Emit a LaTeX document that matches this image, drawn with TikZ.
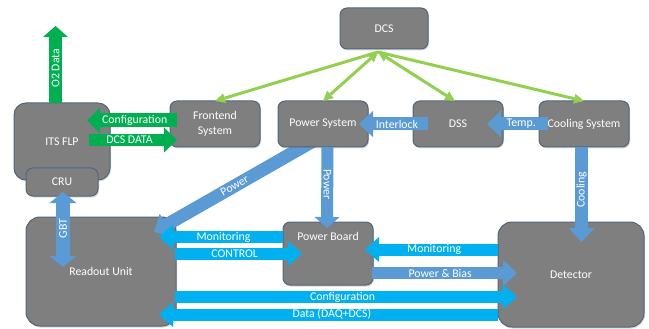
\documentclass[tikz,border=0pt]{standalone}
\usepackage{fontspec}
\setmainfont{Carlito}
\usetikzlibrary{arrows.meta,calc,shadows}
\definecolor{boxfill}{HTML}{7F7F7F}
\definecolor{boxedge}{HTML}{52667A}
\definecolor{dgreen}{HTML}{00B050}
\definecolor{lgreen}{HTML}{92D050}
\definecolor{sblue}{HTML}{5B9BD5}
\definecolor{scyan}{HTML}{00B0F0}
\pgfdeclarelayer{back}
\pgfdeclarelayer{mid}
\pgfsetlayers{back,mid,main}
\newcommand{\lblfont}{\fontsize{11.8}{15.5}\selectfont}
\tikzset{
  box/.style={draw=boxedge,line width=1pt,fill=boxfill,rounded corners=7pt,
    text=white,font=\lblfont,align=center,inner sep=0pt,outer sep=0pt,
    drop shadow={shadow xshift=1pt,shadow yshift=-1.5pt,opacity=0.3}},
  bigbox/.style={box,rounded corners=14pt},
  lbl/.style={text=white,font=\lblfont,inner sep=0pt},
  barrow/.style={line width=13pt,-{Triangle[width=26pt,length=14pt,line width=0pt]}},
  carrow/.style={draw=scyan,line width=12pt,-{Triangle[width=25pt,length=14pt,line width=0pt]}},
  garrow/.style={draw=dgreen,line width=13pt,-{Triangle[width=26pt,length=13pt,line width=0pt]}},
  dblarrow/.style={draw=sblue,line width=14pt,{Triangle[width=27pt,length=11pt,line width=0pt]}-{Triangle[width=27pt,length=11pt,line width=0pt]}},
  dcsline/.style={draw=lgreen,line width=3pt,-{Triangle[width=10pt,length=10pt,line width=0pt]}},
  dcsdbl/.style={draw=lgreen,line width=3pt,{Triangle[width=10pt,length=10pt,line width=0pt]}-{Triangle[width=10pt,length=10pt,line width=0pt]}},
}
\begin{document}
\begin{tikzpicture}[x=1pt,y=-1pt]
\useasboundingbox (0,0) rectangle (649,329);

% boxes
\begin{pgfonlayer}{back}
\node[bigbox,minimum width=150,minimum height=109] (ru) at (101,271.5) {Readout Unit};
\end{pgfonlayer}
\node[box,rounded corners=12pt,minimum width=96,minimum height=77] (flp) at (62,141.5) {ITS FLP};
\node[box,minimum width=72,minimum height=28] (cru) at (62,182) {CRU};
\node[box,minimum width=90,minimum height=46] (fe) at (215,124) {Frontend\\System};
\node[box,minimum width=90,minimum height=46] (ps) at (323,124) {Power System};
\node[box,minimum width=88,minimum height=41] (dcs) at (384,28.5) {DCS};
\node[box,minimum width=90,minimum height=46] (dss) at (458,124) {DSS};
\node[box,minimum width=90,minimum height=46] (cs) at (584,124) {Cooling System};
\node[box,minimum width=90,minimum height=63] (pb) at (328,253.5) {};
\node[lbl] (pbl) at (328,236) {Power Board};
\node[bigbox,minimum width=146,minimum height=105] (det) at (571,274.5) {Detector};

% DCS links
\coordinate (dcsfoot) at ($(dcs.south)+(-6,3)$);
\draw[dcsline] (dcsfoot) -- (fe.north);
\draw[dcsdbl] (dcsfoot) -- (ps.north);
\draw[dcsdbl] (dcsfoot) -- ($(dss.north)+(-3,0)$);
\draw[dcsline] (dcsfoot) -- (cs.north);

% power diagonal (under the Power System box)
\begin{pgfonlayer}{mid}
\draw[barrow,draw=sblue] ($(ps.south)+(-8,-7)$) -- ($(ru.north east)+(-22,15)$)
  node[lbl,midway,sloped] (tpow1) {Power};
\end{pgfonlayer}

% green arrows
\coordinate (o2top) at (55.5,26);
\draw[draw=dgreen,line width=13pt,-{Triangle[width=25pt,length=11pt,line width=0pt]}]
  ($(flp.north)+(-6.5,0)$) -- (o2top) node[lbl,pos=0.45,rotate=90] (to2) {O2 Data};
\draw[garrow,line width=14pt] ($(fe.west)+(7,-3.5)$) -- ($(flp.east)+(-23,-21)$)
  node[lbl,pos=0.47] (tcfg1) {Configuration};
\draw[draw=dgreen,line width=12pt,-{Triangle[width=25pt,length=13pt,line width=0pt]}]
  ($(flp.east)+(-21,-1.5)$) -- ($(fe.west)+(7,16)$) node[lbl,pos=0.46] (tdcsd) {DCS DATA};

% blue arrows
\draw[barrow,draw=sblue] ($(dss.west)+(15,0)$) -- ($(ps.east)+(-9,0)$)
  node[lbl,pos=0.45] (tint) {Interlock};
\draw[barrow,draw=sblue] ($(cs.west)+(9,0)$) -- ($(dss.east)+(-16,0)$)
  node[lbl,pos=0.44] (ttemp) {Temp.};
\draw[draw=sblue,line width=12pt,-{Triangle[width=25pt,length=11pt,line width=0pt]}]
  ($(ps.south)+(4.5,0)$) -- ($(pb.north)+(-1,6)$) node[lbl,pos=0.46,rotate=-90] (tpow2) {Power};
\draw[barrow,draw=sblue] ($(cs.south)+(-2.5,0)$) -- ($(det.north)+(10.5,20)$)
  node[lbl,pos=0.45,rotate=90] (tcool) {Cooling};
\draw[dblarrow] ($(cru.south)+(1,-4)$) -- ($(ru.north)+(-38,50)$)
  node[lbl,pos=0.49,rotate=90] (tgbt) {GBT};
\draw[barrow,draw=sblue,line width=12pt] ($(pb.east)+(-1,19.5)$) -- ($(det.west)+(19,-1.5)$)
  node[lbl,pos=0.47] (tpb) {Power \& Bias};

% cyan arrows
\draw[carrow] ($(pb.west)+(0,-16.5)$) -- ($(ru.east)+(-17,-34.5)$)
  node[lbl,pos=0.48] (tmon1) {Monitoring};
\draw[carrow] ($(ru.east)+(-1,-18)$) -- ($(pb.west)+(19,0)$)
  node[lbl,pos=0.47] (tctl) {CONTROL};
\draw[carrow] ($(det.west)+(0,-25)$) -- ($(pb.east)+(-8,-4)$)
  node[lbl,pos=0.48] (tmon2) {Monitoring};
\draw[carrow] ($(ru.east)+(-1,25.5)$) -- ($(det.west)+(19,22.5)$)
  node[lbl,pos=0.49] (tcfg2) {Configuration};
\draw[carrow] ($(det.west)+(0,40)$) -- ($(ru.east)+(-17,43)$)
  node[lbl,pos=0.49] (tdata) {Data (DAQ+DCS)};
\end{tikzpicture}
\end{document}
